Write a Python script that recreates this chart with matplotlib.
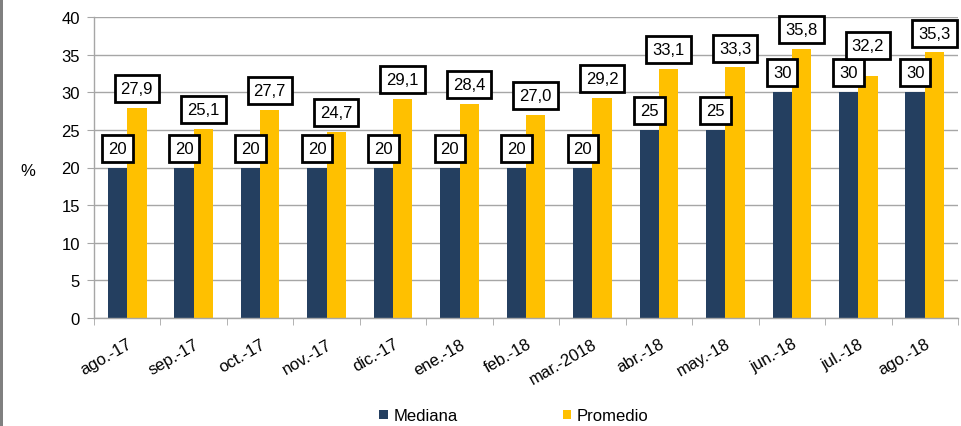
import matplotlib
matplotlib.use("Agg")
import matplotlib.pyplot as plt
import numpy as np
from matplotlib.patches import Rectangle

plt.rcParams['font.family'] = ['Liberation Sans', 'DejaVu Sans']

categories = ["ago.-17", "sep.-17", "oct.-17", "nov.-17", "dic.-17", "ene.-18", "feb.-18",
              "mar.-2018", "abr.-18", "may.-18", "jun.-18", "jul.-18", "ago.-18"]
mediana = [20, 20, 20, 20, 20, 20, 20, 20, 25, 25, 30, 30, 30]
promedio = [27.9, 25.1, 27.7, 24.7, 29.1, 28.4, 27.0, 29.2, 33.1, 33.3, 35.8, 32.2, 35.3]
yticks = [0, 5, 10, 15, 20, 25, 30, 35, 40]

NAVY = "#243F60"
YELLOW = "#FFC000"
GRID = "#A6A6A6"
FS = 12

W, H = 962, 427
fig = plt.figure(figsize=(W / 100, H / 100), dpi=100)
ax = fig.add_axes([94 / W, 1 - 319 / H, (958 - 94) / W, (319 - 18) / H])

x = np.arange(len(categories))
bw = 0.29
b1 = ax.bar(x - bw / 2, mediana, bw, color=NAVY, label="Mediana", zorder=2)
b2 = ax.bar(x + bw / 2, promedio, bw, color=YELLOW, label="Promedio", zorder=2)

ax.set_xlim(-0.5, len(categories) - 0.5)
ax.set_ylim(0, 40)
ax.set_yticks(yticks)
ax.set_yticklabels([str(v) for v in yticks], fontsize=FS)
ax.yaxis.grid(True, color=GRID, linewidth=1, zorder=0)
ax.set_axisbelow(True)
for s in ["top", "right"]:
    ax.spines[s].set_visible(False)
for s in ["left", "bottom"]:
    ax.spines[s].set_color(GRID)
    ax.spines[s].set_linewidth(1)
ax.tick_params(axis="y", length=5, color=GRID, pad=5)

ax.set_xticks(x)
ax.set_xticklabels(categories, fontsize=FS, rotation=30, ha="right", va="top",
                   rotation_mode="anchor")
ax.tick_params(axis="x", which="major", length=0, pad=13)
ax.set_xticks(np.arange(len(categories) + 1) - 0.5, minor=True)
ax.tick_params(axis="x", which="minor", length=5, color=GRID)

box = dict(boxstyle="square,pad=0.36", facecolor="white", edgecolor="black", linewidth=2)
base_off = 8.5
for xi, v in zip(x, mediana):
    ax.annotate(f"{v}", (xi - bw / 2, v), xytext=(0, base_off), textcoords="offset points",
                ha="center", va="bottom", fontsize=FS, bbox=box, zorder=5)
for i, (xi, v) in enumerate(zip(x, promedio)):
    off = base_off
    # lift label when it would collide with the neighbouring Mediana label box
    if v - mediana[i] < 3:
        off += 8
    ax.annotate(f"{v:.1f}".replace(".", ","), (xi + bw / 2, v), xytext=(0, off),
                textcoords="offset points", ha="center", va="bottom", fontsize=FS,
                bbox=box, zorder=6)

fig.text(28 / W, 1 - 172 / H, "%", fontsize=FS, ha="center", va="center")

fig.legend(handles=[b1, b2], labels=["Mediana", "Promedio"], loc="center",
           bbox_to_anchor=(514 / W, 1 - 417 / H), ncol=2, frameon=False,
           fontsize=FS, handlelength=0.5, handleheight=0.5, handletextpad=0.35,
           columnspacing=6.3)

fig.patches.append(Rectangle((0, 0), 2.5 / W, 1, transform=fig.transFigure,
                             facecolor="#808080", edgecolor="none"))

fig.savefig("out.png", dpi=100)
